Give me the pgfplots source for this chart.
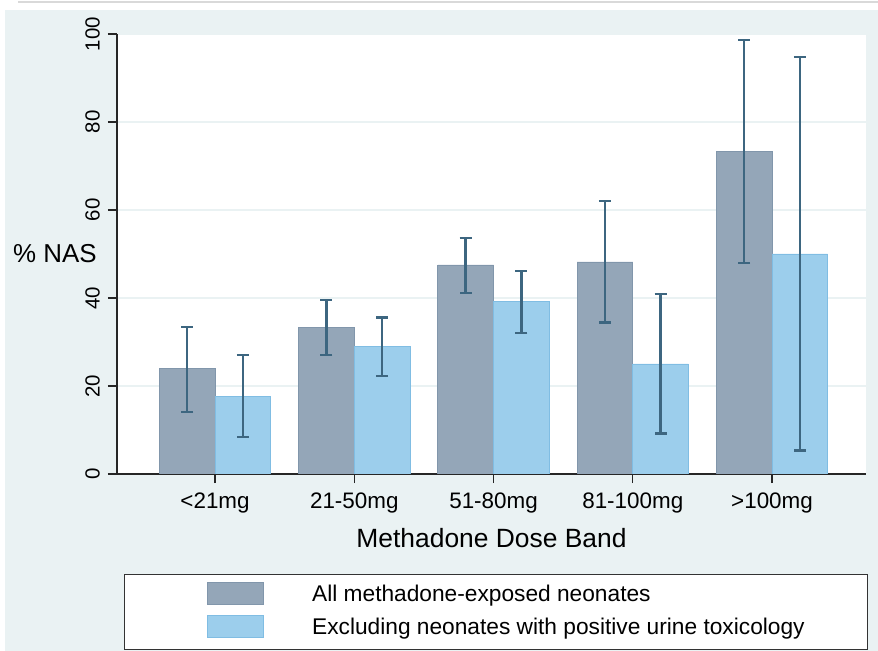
\documentclass[border=0pt]{standalone}
\usepackage{pgfplots}
\pgfplotsset{compat=1.18}
\usepackage{pgfplotstable}
\usepackage{fontspec}
\setmainfont{Liberation Sans}
\definecolor{bgc}{HTML}{EAF2F3}
\definecolor{barA}{HTML}{94A6B8}
\definecolor{barAedge}{HTML}{8196AB}
\definecolor{barB}{HTML}{9CCEEC}
\definecolor{barBedge}{HTML}{80BDE3}
\definecolor{errc}{HTML}{3D6680}

% pos = bar centre (band index -/+ 0.2), y = % NAS, ep/em = upper/lower error length
\pgfplotstableread{
pos y ep em
-0.2 23.9 9.5 9.8
0.8 33.3 6.2 6.3
1.8 47.5 6.2 6.4
2.8 48.2 13.8 13.8
3.8 73.4 25.3 25.4
}\dataA
\pgfplotstableread{
pos y ep em
0.2 17.7 9.3 9.3
1.2 29.0 6.6 6.7
2.2 39.2 6.9 7.2
3.2 25.0 15.9 15.8
4.2 50.0 44.8 44.7
}\dataB

\begin{document}
\begin{tikzpicture}
\fill[white] (0,0) rectangle (878bp,651bp);
\fill[bgc] (5bp,0) rectangle (878bp,641bp);
\draw[gray!30, line width=2bp] (18bp,648.5bp) -- (878bp,648.5bp);
\begin{axis}[
  at={(117bp,177bp)}, anchor=south west,
  scale only axis, width=749bp, height=440bp,
  xmin=-0.704, xmax=4.675, ymin=0, ymax=100,
  axis x line*=bottom, axis y line*=left,
  axis line style={line width=1.1bp, black!85},
  axis background/.style={fill=white},
  tick align=outside, major tick length=9bp,
  tick style={line width=1.1bp, black!85},
  xtick={0,1,2,3,4},
  xticklabels={<21mg,21-50mg,51-80mg,81-100mg,>100mg},
  ytick={0,20,40,60,80,100},
  yticklabels={0,20,40,60,80,100},
  ymajorgrids, grid style={bgc, line width=1.6bp},
  yticklabel style={rotate=90, anchor=south, font=\fontsize{20.5}{24}\selectfont, inner sep=8bp},
  xticklabel style={font=\fontsize{22.5}{26}\selectfont, yshift=-6bp},
  ylabel={\% NAS},
  ylabel style={at={(axis description cs:-0.0828,0.5)}, rotate=-90, anchor=center, font=\fontsize{26}{30}\selectfont},
  xlabel={Methadone Dose Band},
  xlabel style={at={(axis description cs:0.5,-0.168)}, anchor=base, font=\fontsize{26.5}{30}\selectfont},
  legend style={at={(0.00935,-0.2273)}, anchor=north west, draw=black!80, fill=white, line width=0.8bp,
    inner xsep=0pt, inner ysep=8bp, row sep=7bp, column sep=0pt,
    cells={inner sep=0pt},
    font=\fontsize{22.8}{26}\selectfont},
  legend cell align=left,
  legend image code/.code={\path (0bp,-14bp) (185bp,11bp); \draw[#1] (83bp,-11bp) rectangle (139bp,11bp);},
]
\addplot[ybar, bar width=0.4, bar shift=0pt, fill=barA, draw=barAedge, line width=0.8bp,
  error bars/.cd, y dir=both, y explicit,
  error bar style={errc, line width=2.4bp},
  error mark options={errc, line width=2.4bp, mark size=6bp, rotate=90}]
  table[x=pos, y=y, y error plus=ep, y error minus=em] {\dataA};
\addlegendentry{\makebox[553bp][l]{All methadone-exposed neonates}}
\addplot[ybar, bar width=0.4, bar shift=0pt, fill=barB, draw=barBedge, line width=0.8bp,
  error bars/.cd, y dir=both, y explicit,
  error bar style={errc, line width=2.4bp},
  error mark options={errc, line width=2.4bp, mark size=6bp, rotate=90}]
  table[x=pos, y=y, y error plus=ep, y error minus=em] {\dataB};
\addlegendentry{\makebox[553bp][l]{Excluding neonates with positive urine toxicology}}
\end{axis}
\pgfresetboundingbox
\path[use as bounding box] (0,0) rectangle (878bp,651bp);
\end{tikzpicture}
\end{document}
